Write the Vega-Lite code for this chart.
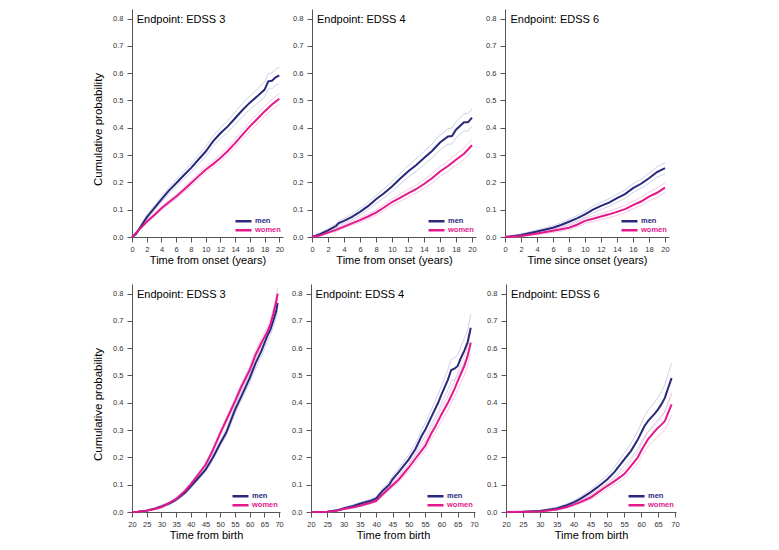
{
"$schema": "https://vega.github.io/schema/vega-lite/v6.json",
"padding": {"left": 92, "top": 9, "right": 5, "bottom": 5},
"background": "white",
"datasets": {"d": [
{"p":"A","s":"men","t":0,"y":0,"lo":0,"hi":0},
{"p":"A","s":"men","t":0.5,"y":0.01,"lo":0.004,"hi":0.016},
{"p":"A","s":"men","t":1,"y":0.03,"lo":0.024,"hi":0.036},
{"p":"A","s":"men","t":2,"y":0.072,"lo":0.064,"hi":0.08},
{"p":"A","s":"men","t":3,"y":0.105,"lo":0.096,"hi":0.114},
{"p":"A","s":"men","t":4,"y":0.138,"lo":0.128,"hi":0.148},
{"p":"A","s":"men","t":5,"y":0.17,"lo":0.159,"hi":0.181},
{"p":"A","s":"men","t":6,"y":0.197,"lo":0.184,"hi":0.21},
{"p":"A","s":"men","t":7,"y":0.225,"lo":0.211,"hi":0.239},
{"p":"A","s":"men","t":8,"y":0.252,"lo":0.237,"hi":0.267},
{"p":"A","s":"men","t":9,"y":0.283,"lo":0.267,"hi":0.299},
{"p":"A","s":"men","t":10,"y":0.313,"lo":0.295,"hi":0.331},
{"p":"A","s":"men","t":11,"y":0.35,"lo":0.331,"hi":0.369},
{"p":"A","s":"men","t":12,"y":0.38,"lo":0.36,"hi":0.4},
{"p":"A","s":"men","t":13,"y":0.405,"lo":0.384,"hi":0.426},
{"p":"A","s":"men","t":14,"y":0.435,"lo":0.412,"hi":0.458},
{"p":"A","s":"men","t":15,"y":0.465,"lo":0.441,"hi":0.489},
{"p":"A","s":"men","t":16,"y":0.492,"lo":0.467,"hi":0.517},
{"p":"A","s":"men","t":17,"y":0.515,"lo":0.489,"hi":0.541},
{"p":"A","s":"men","t":18,"y":0.54,"lo":0.512,"hi":0.568},
{"p":"A","s":"men","t":18.5,"y":0.57,"lo":0.542,"hi":0.598},
{"p":"A","s":"men","t":19,"y":0.572,"lo":0.543,"hi":0.601},
{"p":"A","s":"men","t":19.5,"y":0.585,"lo":0.556,"hi":0.614},
{"p":"A","s":"men","t":20,"y":0.592,"lo":0.562,"hi":0.622},
{"p":"A","s":"women","t":0,"y":0,"lo":0,"hi":0},
{"p":"A","s":"women","t":1,"y":0.028,"lo":0.024,"hi":0.032},
{"p":"A","s":"women","t":2,"y":0.056,"lo":0.051,"hi":0.061},
{"p":"A","s":"women","t":3,"y":0.08,"lo":0.0745,"hi":0.0855},
{"p":"A","s":"women","t":4,"y":0.105,"lo":0.099,"hi":0.111},
{"p":"A","s":"women","t":5,"y":0.127,"lo":0.12,"hi":0.134},
{"p":"A","s":"women","t":6,"y":0.148,"lo":0.14,"hi":0.156},
{"p":"A","s":"women","t":7,"y":0.172,"lo":0.163,"hi":0.181},
{"p":"A","s":"women","t":8,"y":0.197,"lo":0.187,"hi":0.207},
{"p":"A","s":"women","t":9,"y":0.222,"lo":0.211,"hi":0.233},
{"p":"A","s":"women","t":10,"y":0.246,"lo":0.2345,"hi":0.2575},
{"p":"A","s":"women","t":11,"y":0.267,"lo":0.255,"hi":0.279},
{"p":"A","s":"women","t":12,"y":0.289,"lo":0.276,"hi":0.302},
{"p":"A","s":"women","t":13,"y":0.315,"lo":0.301,"hi":0.329},
{"p":"A","s":"women","t":14,"y":0.344,"lo":0.329,"hi":0.359},
{"p":"A","s":"women","t":15,"y":0.375,"lo":0.359,"hi":0.391},
{"p":"A","s":"women","t":16,"y":0.405,"lo":0.388,"hi":0.422},
{"p":"A","s":"women","t":17,"y":0.432,"lo":0.4145,"hi":0.4495},
{"p":"A","s":"women","t":18,"y":0.46,"lo":0.442,"hi":0.478},
{"p":"A","s":"women","t":19,"y":0.485,"lo":0.466,"hi":0.504},
{"p":"A","s":"women","t":20,"y":0.506,"lo":0.486,"hi":0.526},
{"p":"B","s":"men","t":0,"y":0,"lo":0,"hi":0},
{"p":"B","s":"men","t":1,"y":0.01,"lo":0.0055,"hi":0.0145},
{"p":"B","s":"men","t":2,"y":0.024,"lo":0.018,"hi":0.03},
{"p":"B","s":"men","t":3,"y":0.04,"lo":0.0325,"hi":0.0475},
{"p":"B","s":"men","t":3.3,"y":0.05,"lo":0.042,"hi":0.058},
{"p":"B","s":"men","t":4,"y":0.059,"lo":0.05,"hi":0.068},
{"p":"B","s":"men","t":5,"y":0.074,"lo":0.0635,"hi":0.0845},
{"p":"B","s":"men","t":6,"y":0.092,"lo":0.08,"hi":0.104},
{"p":"B","s":"men","t":7,"y":0.113,"lo":0.0995,"hi":0.1265},
{"p":"B","s":"men","t":8,"y":0.138,"lo":0.123,"hi":0.153},
{"p":"B","s":"men","t":9,"y":0.16,"lo":0.1435,"hi":0.1765},
{"p":"B","s":"men","t":10,"y":0.185,"lo":0.167,"hi":0.203},
{"p":"B","s":"men","t":11,"y":0.213,"lo":0.1935,"hi":0.2325},
{"p":"B","s":"men","t":12,"y":0.24,"lo":0.219,"hi":0.261},
{"p":"B","s":"men","t":13,"y":0.263,"lo":0.2405,"hi":0.2855},
{"p":"B","s":"men","t":14,"y":0.289,"lo":0.265,"hi":0.313},
{"p":"B","s":"men","t":15,"y":0.315,"lo":0.2895,"hi":0.3405},
{"p":"B","s":"men","t":16,"y":0.346,"lo":0.319,"hi":0.373},
{"p":"B","s":"men","t":17,"y":0.368,"lo":0.3395,"hi":0.3965},
{"p":"B","s":"men","t":17.5,"y":0.37,"lo":0.341,"hi":0.399},
{"p":"B","s":"men","t":18,"y":0.393,"lo":0.363,"hi":0.423},
{"p":"B","s":"men","t":19,"y":0.42,"lo":0.3885,"hi":0.4515},
{"p":"B","s":"men","t":19.5,"y":0.42,"lo":0.388,"hi":0.452},
{"p":"B","s":"men","t":20,"y":0.437,"lo":0.404,"hi":0.47},
{"p":"B","s":"women","t":0,"y":0,"lo":0,"hi":0},
{"p":"B","s":"women","t":1,"y":0.006,"lo":0.003,"hi":0.009},
{"p":"B","s":"women","t":2,"y":0.016,"lo":0.012,"hi":0.02},
{"p":"B","s":"women","t":3,"y":0.026,"lo":0.021,"hi":0.031},
{"p":"B","s":"women","t":4,"y":0.038,"lo":0.032,"hi":0.044},
{"p":"B","s":"women","t":5,"y":0.05,"lo":0.043,"hi":0.057},
{"p":"B","s":"women","t":6,"y":0.062,"lo":0.054,"hi":0.07},
{"p":"B","s":"women","t":7,"y":0.075,"lo":0.066,"hi":0.084},
{"p":"B","s":"women","t":8,"y":0.089,"lo":0.079,"hi":0.099},
{"p":"B","s":"women","t":9,"y":0.108,"lo":0.097,"hi":0.119},
{"p":"B","s":"women","t":10,"y":0.128,"lo":0.116,"hi":0.14},
{"p":"B","s":"women","t":11,"y":0.143,"lo":0.13,"hi":0.156},
{"p":"B","s":"women","t":12,"y":0.16,"lo":0.146,"hi":0.174},
{"p":"B","s":"women","t":13,"y":0.175,"lo":0.16,"hi":0.19},
{"p":"B","s":"women","t":14,"y":0.194,"lo":0.178,"hi":0.21},
{"p":"B","s":"women","t":15,"y":0.215,"lo":0.198,"hi":0.232},
{"p":"B","s":"women","t":16,"y":0.24,"lo":0.222,"hi":0.258},
{"p":"B","s":"women","t":17,"y":0.26,"lo":0.241,"hi":0.279},
{"p":"B","s":"women","t":18,"y":0.283,"lo":0.263,"hi":0.303},
{"p":"B","s":"women","t":19,"y":0.305,"lo":0.284,"hi":0.326},
{"p":"B","s":"women","t":20,"y":0.336,"lo":0.314,"hi":0.358},
{"p":"C","s":"men","t":0,"y":0,"lo":0,"hi":0},
{"p":"C","s":"men","t":2,"y":0.007,"lo":0.003,"hi":0.011},
{"p":"C","s":"men","t":4,"y":0.02,"lo":0.0144,"hi":0.0256},
{"p":"C","s":"men","t":6,"y":0.034,"lo":0.0266,"hi":0.0414},
{"p":"C","s":"men","t":7,"y":0.044,"lo":0.0357,"hi":0.0523},
{"p":"C","s":"men","t":8,"y":0.056,"lo":0.0468,"hi":0.0652},
{"p":"C","s":"men","t":9,"y":0.068,"lo":0.058,"hi":0.078},
{"p":"C","s":"men","t":10,"y":0.083,"lo":0.072,"hi":0.094},
{"p":"C","s":"men","t":11,"y":0.1,"lo":0.088,"hi":0.112},
{"p":"C","s":"men","t":12,"y":0.114,"lo":0.101,"hi":0.127},
{"p":"C","s":"men","t":13,"y":0.126,"lo":0.112,"hi":0.14},
{"p":"C","s":"men","t":14,"y":0.142,"lo":0.127,"hi":0.157},
{"p":"C","s":"men","t":15,"y":0.157,"lo":0.1415,"hi":0.1725},
{"p":"C","s":"men","t":16,"y":0.179,"lo":0.163,"hi":0.195},
{"p":"C","s":"men","t":17,"y":0.195,"lo":0.178,"hi":0.212},
{"p":"C","s":"men","t":18,"y":0.215,"lo":0.197,"hi":0.233},
{"p":"C","s":"men","t":19,"y":0.238,"lo":0.219,"hi":0.257},
{"p":"C","s":"men","t":20,"y":0.252,"lo":0.232,"hi":0.272},
{"p":"C","s":"women","t":0,"y":0,"lo":0,"hi":0},
{"p":"C","s":"women","t":2,"y":0.004,"lo":0.001,"hi":0.007},
{"p":"C","s":"women","t":4,"y":0.013,"lo":0.0083,"hi":0.0177},
{"p":"C","s":"women","t":6,"y":0.023,"lo":0.0167,"hi":0.0293},
{"p":"C","s":"women","t":8,"y":0.034,"lo":0.026,"hi":0.042},
{"p":"C","s":"women","t":9,"y":0.045,"lo":0.036,"hi":0.054},
{"p":"C","s":"women","t":10,"y":0.059,"lo":0.0495,"hi":0.0685},
{"p":"C","s":"women","t":11,"y":0.067,"lo":0.057,"hi":0.077},
{"p":"C","s":"women","t":12,"y":0.075,"lo":0.064,"hi":0.086},
{"p":"C","s":"women","t":13,"y":0.083,"lo":0.071,"hi":0.095},
{"p":"C","s":"women","t":14,"y":0.092,"lo":0.079,"hi":0.105},
{"p":"C","s":"women","t":15,"y":0.102,"lo":0.0885,"hi":0.1155},
{"p":"C","s":"women","t":16,"y":0.117,"lo":0.103,"hi":0.131},
{"p":"C","s":"women","t":17,"y":0.13,"lo":0.115,"hi":0.145},
{"p":"C","s":"women","t":18,"y":0.148,"lo":0.132,"hi":0.164},
{"p":"C","s":"women","t":19,"y":0.162,"lo":0.145,"hi":0.179},
{"p":"C","s":"women","t":20,"y":0.181,"lo":0.1635,"hi":0.1985},
{"p":"D","s":"men","t":20,"y":0,"lo":0,"hi":0},
{"p":"D","s":"men","t":22,"y":0.001,"lo":0,"hi":0.002},
{"p":"D","s":"men","t":25,"y":0.005,"lo":0.002,"hi":0.008},
{"p":"D","s":"men","t":28,"y":0.013,"lo":0.009,"hi":0.017},
{"p":"D","s":"men","t":30,"y":0.02,"lo":0.015,"hi":0.025},
{"p":"D","s":"men","t":33,"y":0.033,"lo":0.028,"hi":0.038},
{"p":"D","s":"men","t":35,"y":0.045,"lo":0.04,"hi":0.05},
{"p":"D","s":"men","t":38,"y":0.07,"lo":0.064,"hi":0.076},
{"p":"D","s":"men","t":40,"y":0.094,"lo":0.088,"hi":0.1},
{"p":"D","s":"men","t":42,"y":0.118,"lo":0.111,"hi":0.125},
{"p":"D","s":"men","t":45,"y":0.155,"lo":0.147,"hi":0.163},
{"p":"D","s":"men","t":47,"y":0.19,"lo":0.181,"hi":0.199},
{"p":"D","s":"men","t":48,"y":0.21,"lo":0.201,"hi":0.219},
{"p":"D","s":"men","t":50,"y":0.252,"lo":0.242,"hi":0.262},
{"p":"D","s":"men","t":52,"y":0.29,"lo":0.279,"hi":0.301},
{"p":"D","s":"men","t":55,"y":0.374,"lo":0.361,"hi":0.387},
{"p":"D","s":"men","t":57,"y":0.42,"lo":0.406,"hi":0.434},
{"p":"D","s":"men","t":60,"y":0.49,"lo":0.474,"hi":0.506},
{"p":"D","s":"men","t":62,"y":0.545,"lo":0.527,"hi":0.563},
{"p":"D","s":"men","t":64,"y":0.59,"lo":0.571,"hi":0.609},
{"p":"D","s":"men","t":65,"y":0.618,"lo":0.598,"hi":0.638},
{"p":"D","s":"men","t":66,"y":0.645,"lo":0.624,"hi":0.666},
{"p":"D","s":"men","t":67,"y":0.667,"lo":0.646,"hi":0.688},
{"p":"D","s":"men","t":68,"y":0.7,"lo":0.678,"hi":0.722},
{"p":"D","s":"men","t":69,"y":0.735,"lo":0.712,"hi":0.758},
{"p":"D","s":"men","t":69.5,"y":0.765,"lo":0.741,"hi":0.789},
{"p":"D","s":"women","t":20,"y":0,"lo":0,"hi":0},
{"p":"D","s":"women","t":22,"y":0.001,"lo":0,"hi":0.002},
{"p":"D","s":"women","t":25,"y":0.005,"lo":0.002,"hi":0.008},
{"p":"D","s":"women","t":28,"y":0.012,"lo":0.009,"hi":0.015},
{"p":"D","s":"women","t":30,"y":0.018,"lo":0.014,"hi":0.022},
{"p":"D","s":"women","t":33,"y":0.035,"lo":0.031,"hi":0.039},
{"p":"D","s":"women","t":35,"y":0.048,"lo":0.043,"hi":0.053},
{"p":"D","s":"women","t":38,"y":0.077,"lo":0.072,"hi":0.082},
{"p":"D","s":"women","t":40,"y":0.102,"lo":0.096,"hi":0.108},
{"p":"D","s":"women","t":42,"y":0.13,"lo":0.124,"hi":0.136},
{"p":"D","s":"women","t":45,"y":0.173,"lo":0.166,"hi":0.18},
{"p":"D","s":"women","t":47,"y":0.215,"lo":0.207,"hi":0.223},
{"p":"D","s":"women","t":50,"y":0.289,"lo":0.28,"hi":0.298},
{"p":"D","s":"women","t":52,"y":0.335,"lo":0.325,"hi":0.345},
{"p":"D","s":"women","t":55,"y":0.405,"lo":0.394,"hi":0.416},
{"p":"D","s":"women","t":57,"y":0.455,"lo":0.443,"hi":0.467},
{"p":"D","s":"women","t":60,"y":0.52,"lo":0.506,"hi":0.534},
{"p":"D","s":"women","t":62,"y":0.576,"lo":0.561,"hi":0.591},
{"p":"D","s":"women","t":64,"y":0.62,"lo":0.604,"hi":0.636},
{"p":"D","s":"women","t":65,"y":0.64,"lo":0.623,"hi":0.657},
{"p":"D","s":"women","t":66,"y":0.66,"lo":0.642,"hi":0.678},
{"p":"D","s":"women","t":67,"y":0.685,"lo":0.667,"hi":0.703},
{"p":"D","s":"women","t":68,"y":0.725,"lo":0.706,"hi":0.744},
{"p":"D","s":"women","t":69,"y":0.77,"lo":0.75,"hi":0.79},
{"p":"D","s":"women","t":69.5,"y":0.8,"lo":0.779,"hi":0.821},
{"p":"E","s":"men","t":20,"y":0,"lo":0,"hi":0},
{"p":"E","s":"men","t":25,"y":0.001,"lo":0,"hi":0.002},
{"p":"E","s":"men","t":28,"y":0.006,"lo":0.003,"hi":0.009},
{"p":"E","s":"men","t":30,"y":0.013,"lo":0.009,"hi":0.017},
{"p":"E","s":"men","t":33,"y":0.022,"lo":0.017,"hi":0.027},
{"p":"E","s":"men","t":35,"y":0.03,"lo":0.025,"hi":0.035},
{"p":"E","s":"men","t":38,"y":0.04,"lo":0.034,"hi":0.046},
{"p":"E","s":"men","t":40,"y":0.05,"lo":0.044,"hi":0.056},
{"p":"E","s":"men","t":42,"y":0.078,"lo":0.07,"hi":0.086},
{"p":"E","s":"men","t":44,"y":0.1,"lo":0.09,"hi":0.11},
{"p":"E","s":"men","t":45,"y":0.12,"lo":0.109,"hi":0.131},
{"p":"E","s":"men","t":47,"y":0.148,"lo":0.135,"hi":0.161},
{"p":"E","s":"men","t":50,"y":0.193,"lo":0.177,"hi":0.209},
{"p":"E","s":"men","t":52,"y":0.23,"lo":0.211,"hi":0.249},
{"p":"E","s":"men","t":54,"y":0.28,"lo":0.258,"hi":0.302},
{"p":"E","s":"men","t":55,"y":0.3,"lo":0.276,"hi":0.324},
{"p":"E","s":"men","t":57,"y":0.35,"lo":0.323,"hi":0.377},
{"p":"E","s":"men","t":59,"y":0.4,"lo":0.369,"hi":0.431},
{"p":"E","s":"men","t":60,"y":0.43,"lo":0.397,"hi":0.463},
{"p":"E","s":"men","t":62,"y":0.485,"lo":0.448,"hi":0.522},
{"p":"E","s":"men","t":63,"y":0.52,"lo":0.481,"hi":0.559},
{"p":"E","s":"men","t":64,"y":0.525,"lo":0.485,"hi":0.565},
{"p":"E","s":"men","t":65,"y":0.535,"lo":0.495,"hi":0.575},
{"p":"E","s":"men","t":66,"y":0.565,"lo":0.522,"hi":0.608},
{"p":"E","s":"men","t":67,"y":0.59,"lo":0.546,"hi":0.634},
{"p":"E","s":"men","t":68,"y":0.62,"lo":0.574,"hi":0.666},
{"p":"E","s":"men","t":69,"y":0.675,"lo":0.625,"hi":0.725},
{"p":"E","s":"women","t":20,"y":0,"lo":0,"hi":0},
{"p":"E","s":"women","t":25,"y":0.001,"lo":0,"hi":0.002},
{"p":"E","s":"women","t":28,"y":0.005,"lo":0.003,"hi":0.007},
{"p":"E","s":"women","t":30,"y":0.011,"lo":0.008,"hi":0.014},
{"p":"E","s":"women","t":33,"y":0.017,"lo":0.014,"hi":0.02},
{"p":"E","s":"women","t":35,"y":0.023,"lo":0.019,"hi":0.027},
{"p":"E","s":"women","t":38,"y":0.033,"lo":0.029,"hi":0.037},
{"p":"E","s":"women","t":40,"y":0.041,"lo":0.036,"hi":0.046},
{"p":"E","s":"women","t":42,"y":0.065,"lo":0.059,"hi":0.071},
{"p":"E","s":"women","t":45,"y":0.098,"lo":0.09,"hi":0.106},
{"p":"E","s":"women","t":47,"y":0.12,"lo":0.111,"hi":0.129},
{"p":"E","s":"women","t":50,"y":0.163,"lo":0.151,"hi":0.175},
{"p":"E","s":"women","t":52,"y":0.195,"lo":0.181,"hi":0.209},
{"p":"E","s":"women","t":55,"y":0.242,"lo":0.225,"hi":0.259},
{"p":"E","s":"women","t":57,"y":0.29,"lo":0.271,"hi":0.309},
{"p":"E","s":"women","t":58,"y":0.31,"lo":0.289,"hi":0.331},
{"p":"E","s":"women","t":60,"y":0.357,"lo":0.334,"hi":0.38},
{"p":"E","s":"women","t":62,"y":0.4,"lo":0.374,"hi":0.426},
{"p":"E","s":"women","t":64,"y":0.45,"lo":0.421,"hi":0.479},
{"p":"E","s":"women","t":65,"y":0.479,"lo":0.448,"hi":0.51},
{"p":"E","s":"women","t":67,"y":0.534,"lo":0.5,"hi":0.568},
{"p":"E","s":"women","t":68,"y":0.57,"lo":0.534,"hi":0.606},
{"p":"E","s":"women","t":69,"y":0.62,"lo":0.581,"hi":0.659},
{"p":"F","s":"men","t":20,"y":0,"lo":0,"hi":0},
{"p":"F","s":"men","t":25,"y":0.001,"lo":0,"hi":0.002},
{"p":"F","s":"men","t":30,"y":0.004,"lo":0.002,"hi":0.006},
{"p":"F","s":"men","t":35,"y":0.013,"lo":0.009,"hi":0.017},
{"p":"F","s":"men","t":38,"y":0.025,"lo":0.02,"hi":0.03},
{"p":"F","s":"men","t":40,"y":0.035,"lo":0.029,"hi":0.041},
{"p":"F","s":"men","t":42,"y":0.048,"lo":0.041,"hi":0.055},
{"p":"F","s":"men","t":45,"y":0.072,"lo":0.062,"hi":0.082},
{"p":"F","s":"men","t":47,"y":0.09,"lo":0.078,"hi":0.102},
{"p":"F","s":"men","t":50,"y":0.12,"lo":0.105,"hi":0.135},
{"p":"F","s":"men","t":52,"y":0.145,"lo":0.127,"hi":0.163},
{"p":"F","s":"men","t":55,"y":0.193,"lo":0.17,"hi":0.216},
{"p":"F","s":"men","t":57,"y":0.224,"lo":0.197,"hi":0.251},
{"p":"F","s":"men","t":59,"y":0.265,"lo":0.234,"hi":0.296},
{"p":"F","s":"men","t":60,"y":0.29,"lo":0.256,"hi":0.324},
{"p":"F","s":"men","t":61,"y":0.315,"lo":0.278,"hi":0.352},
{"p":"F","s":"men","t":62,"y":0.333,"lo":0.294,"hi":0.372},
{"p":"F","s":"men","t":64,"y":0.36,"lo":0.318,"hi":0.402},
{"p":"F","s":"men","t":65,"y":0.376,"lo":0.332,"hi":0.42},
{"p":"F","s":"men","t":66,"y":0.395,"lo":0.349,"hi":0.441},
{"p":"F","s":"men","t":67,"y":0.418,"lo":0.37,"hi":0.466},
{"p":"F","s":"men","t":68,"y":0.455,"lo":0.403,"hi":0.507},
{"p":"F","s":"men","t":69,"y":0.49,"lo":0.434,"hi":0.546},
{"p":"F","s":"women","t":20,"y":0,"lo":0,"hi":0},
{"p":"F","s":"women","t":25,"y":0.001,"lo":0,"hi":0.002},
{"p":"F","s":"women","t":30,"y":0.002,"lo":0.001,"hi":0.003},
{"p":"F","s":"women","t":35,"y":0.009,"lo":0.006,"hi":0.012},
{"p":"F","s":"women","t":38,"y":0.018,"lo":0.014,"hi":0.022},
{"p":"F","s":"women","t":40,"y":0.027,"lo":0.022,"hi":0.032},
{"p":"F","s":"women","t":42,"y":0.036,"lo":0.031,"hi":0.041},
{"p":"F","s":"women","t":45,"y":0.053,"lo":0.046,"hi":0.06},
{"p":"F","s":"women","t":47,"y":0.07,"lo":0.061,"hi":0.079},
{"p":"F","s":"women","t":50,"y":0.096,"lo":0.085,"hi":0.107},
{"p":"F","s":"women","t":52,"y":0.112,"lo":0.1,"hi":0.124},
{"p":"F","s":"women","t":55,"y":0.139,"lo":0.124,"hi":0.154},
{"p":"F","s":"women","t":57,"y":0.169,"lo":0.151,"hi":0.187},
{"p":"F","s":"women","t":59,"y":0.2,"lo":0.179,"hi":0.221},
{"p":"F","s":"women","t":60,"y":0.224,"lo":0.201,"hi":0.247},
{"p":"F","s":"women","t":61,"y":0.245,"lo":0.22,"hi":0.27},
{"p":"F","s":"women","t":62,"y":0.266,"lo":0.239,"hi":0.293},
{"p":"F","s":"women","t":64,"y":0.295,"lo":0.265,"hi":0.325},
{"p":"F","s":"women","t":65,"y":0.309,"lo":0.278,"hi":0.34},
{"p":"F","s":"women","t":66,"y":0.32,"lo":0.288,"hi":0.352},
{"p":"F","s":"women","t":67,"y":0.333,"lo":0.3,"hi":0.366},
{"p":"F","s":"women","t":68,"y":0.364,"lo":0.327,"hi":0.401},
{"p":"F","s":"women","t":69,"y":0.394,"lo":0.355,"hi":0.433}
]},
"vconcat": [
{"hconcat": [
{"width": 151, "height": 228, "data": {"name": "d"}, "transform": [{"filter": "datum.p == 'A'"}],
 "encoding": {
  "x": {"field": "t", "type": "quantitative", "scale": {"domain": [0, 20.5], "nice": false, "zero": false}, "axis": {"values": [0,2,4,6,8,10,12,14,16,18,20], "format": "d", "title": "Time from onset (years)"}},
  "y": {"field": "y", "type": "quantitative", "scale": {"domain": [0, 0.835], "nice": false}, "axis": {"values": [0,0.1,0.2,0.3,0.4,0.5,0.6,0.7,0.8], "format": ".1f", "labelOverlap": false, "titleY": 120}, "title": "Cumulative probability"}},
 "layer": [
  {"mark": {"type": "line", "strokeWidth": 0.8}, "encoding": {"y": {"field": "lo", "type": "quantitative"}, "detail": {"field": "s"}, "stroke": {"condition": {"test": "datum.s == 'men'", "value": "#c4c4e4"}, "value": "#f3bcdc"}}},
  {"mark": {"type": "line", "strokeWidth": 0.8}, "encoding": {"y": {"field": "hi", "type": "quantitative"}, "detail": {"field": "s"}, "stroke": {"condition": {"test": "datum.s == 'men'", "value": "#c4c4e4"}, "value": "#f3bcdc"}}},
  {"mark": {"type": "line", "strokeWidth": 2}, "encoding": {"color": {"field": "s", "type": "nominal", "scale": {"domain": ["men","women"], "range": ["#28287c","#e2188c"]}, "legend": {"title": null, "labelColor": {"expr": "datum.label == 'men' ? '#28287c' : '#e2188c'"}}}}},
  {"transform": [{"filter": "datum.t == 0 && datum.s == 'men'"}], "mark": {"type": "text", "align": "left", "baseline": "alphabetic", "fontSize": 11, "fill": "#000000"}, "encoding": {"x": {"datum": 0.64}, "y": {"datum": 0.785}, "text": {"value": "Endpoint: EDSS 3"}}}
 ]},
{"width": 164, "height": 228, "data": {"name": "d"}, "transform": [{"filter": "datum.p == 'B'"}],
 "encoding": {
  "x": {"field": "t", "type": "quantitative", "scale": {"domain": [0, 20.5], "nice": false, "zero": false}, "axis": {"values": [0,2,4,6,8,10,12,14,16,18,20], "format": "d", "title": "Time from onset (years)"}},
  "y": {"field": "y", "type": "quantitative", "scale": {"domain": [0, 0.835], "nice": false}, "axis": {"values": [0,0.1,0.2,0.3,0.4,0.5,0.6,0.7,0.8], "format": ".1f", "labelOverlap": false}, "title": null}},
 "layer": [
  {"mark": {"type": "line", "strokeWidth": 0.8}, "encoding": {"y": {"field": "lo", "type": "quantitative"}, "detail": {"field": "s"}, "stroke": {"condition": {"test": "datum.s == 'men'", "value": "#c4c4e4"}, "value": "#f3bcdc"}}},
  {"mark": {"type": "line", "strokeWidth": 0.8}, "encoding": {"y": {"field": "hi", "type": "quantitative"}, "detail": {"field": "s"}, "stroke": {"condition": {"test": "datum.s == 'men'", "value": "#c4c4e4"}, "value": "#f3bcdc"}}},
  {"mark": {"type": "line", "strokeWidth": 2}, "encoding": {"color": {"field": "s", "type": "nominal", "scale": {"domain": ["men","women"], "range": ["#28287c","#e2188c"]}, "legend": {"title": null, "labelColor": {"expr": "datum.label == 'men' ? '#28287c' : '#e2188c'"}}}}},
  {"transform": [{"filter": "datum.t == 0 && datum.s == 'men'"}], "mark": {"type": "text", "align": "left", "baseline": "alphabetic", "fontSize": 11, "fill": "#000000"}, "encoding": {"x": {"datum": 0.62}, "y": {"datum": 0.785}, "text": {"value": "Endpoint: EDSS 4"}}}
 ]},
{"width": 164, "height": 228, "data": {"name": "d"}, "transform": [{"filter": "datum.p == 'C'"}],
 "encoding": {
  "x": {"field": "t", "type": "quantitative", "scale": {"domain": [0, 20.5], "nice": false, "zero": false}, "axis": {"values": [0,2,4,6,8,10,12,14,16,18,20], "format": "d", "title": "Time since onset (years)"}},
  "y": {"field": "y", "type": "quantitative", "scale": {"domain": [0, 0.835], "nice": false}, "axis": {"values": [0,0.1,0.2,0.3,0.4,0.5,0.6,0.7,0.8], "format": ".1f", "labelOverlap": false}, "title": null}},
 "layer": [
  {"mark": {"type": "line", "strokeWidth": 0.8}, "encoding": {"y": {"field": "lo", "type": "quantitative"}, "detail": {"field": "s"}, "stroke": {"condition": {"test": "datum.s == 'men'", "value": "#c4c4e4"}, "value": "#f3bcdc"}}},
  {"mark": {"type": "line", "strokeWidth": 0.8}, "encoding": {"y": {"field": "hi", "type": "quantitative"}, "detail": {"field": "s"}, "stroke": {"condition": {"test": "datum.s == 'men'", "value": "#c4c4e4"}, "value": "#f3bcdc"}}},
  {"mark": {"type": "line", "strokeWidth": 2}, "encoding": {"color": {"field": "s", "type": "nominal", "scale": {"domain": ["men","women"], "range": ["#28287c","#e2188c"]}, "legend": {"title": null, "labelColor": {"expr": "datum.label == 'men' ? '#28287c' : '#e2188c'"}}}}},
  {"transform": [{"filter": "datum.t == 0 && datum.s == 'men'"}], "mark": {"type": "text", "align": "left", "baseline": "alphabetic", "fontSize": 11, "fill": "#000000"}, "encoding": {"x": {"datum": 0.68}, "y": {"datum": 0.785}, "text": {"value": "Endpoint: EDSS 6"}}}
 ]}
], "spacing": 29, "bounds": "flush", "resolve": {"scale": {"color": "independent"}}},
{"hconcat": [
{"width": 148, "height": 228, "data": {"name": "d"}, "transform": [{"filter": "datum.p == 'D'"}],
 "encoding": {
  "x": {"field": "t", "type": "quantitative", "scale": {"domain": [20, 70.3], "nice": false, "zero": false}, "axis": {"values": [20,25,30,35,40,45,50,55,60,65,70], "format": "d", "title": "Time from birth"}},
  "y": {"field": "y", "type": "quantitative", "scale": {"domain": [0, 0.835], "nice": false}, "axis": {"values": [0,0.1,0.2,0.3,0.4,0.5,0.6,0.7,0.8], "format": ".1f", "labelOverlap": false, "titleY": 120}, "title": "Cumulative probability"}},
 "layer": [
  {"mark": {"type": "line", "strokeWidth": 0.8}, "encoding": {"y": {"field": "lo", "type": "quantitative"}, "detail": {"field": "s"}, "stroke": {"condition": {"test": "datum.s == 'men'", "value": "#c4c4e4"}, "value": "#f3bcdc"}}},
  {"mark": {"type": "line", "strokeWidth": 0.8}, "encoding": {"y": {"field": "hi", "type": "quantitative"}, "detail": {"field": "s"}, "stroke": {"condition": {"test": "datum.s == 'men'", "value": "#c4c4e4"}, "value": "#f3bcdc"}}},
  {"mark": {"type": "line", "strokeWidth": 2}, "encoding": {"color": {"field": "s", "type": "nominal", "scale": {"domain": ["men","women"], "range": ["#28287c","#e2188c"]}, "legend": {"title": null, "labelColor": {"expr": "datum.label == 'men' ? '#28287c' : '#e2188c'"}}}}},
  {"transform": [{"filter": "datum.t == 20 && datum.s == 'men'"}], "mark": {"type": "text", "align": "left", "baseline": "alphabetic", "fontSize": 11, "fill": "#000000"}, "encoding": {"x": {"datum": 21.7}, "y": {"datum": 0.785}, "text": {"value": "Endpoint: EDSS 3"}}}
 ]},
{"width": 164, "height": 228, "data": {"name": "d"}, "transform": [{"filter": "datum.p == 'E'"}],
 "encoding": {
  "x": {"field": "t", "type": "quantitative", "scale": {"domain": [20, 70.3], "nice": false, "zero": false}, "axis": {"values": [20,25,30,35,40,45,50,55,60,65,70], "format": "d", "title": "Time from birth"}},
  "y": {"field": "y", "type": "quantitative", "scale": {"domain": [0, 0.835], "nice": false}, "axis": {"values": [0,0.1,0.2,0.3,0.4,0.5,0.6,0.7,0.8], "format": ".1f", "labelOverlap": false}, "title": null}},
 "layer": [
  {"mark": {"type": "line", "strokeWidth": 0.8}, "encoding": {"y": {"field": "lo", "type": "quantitative"}, "detail": {"field": "s"}, "stroke": {"condition": {"test": "datum.s == 'men'", "value": "#c4c4e4"}, "value": "#f3bcdc"}}},
  {"mark": {"type": "line", "strokeWidth": 0.8}, "encoding": {"y": {"field": "hi", "type": "quantitative"}, "detail": {"field": "s"}, "stroke": {"condition": {"test": "datum.s == 'men'", "value": "#c4c4e4"}, "value": "#f3bcdc"}}},
  {"mark": {"type": "line", "strokeWidth": 2}, "encoding": {"color": {"field": "s", "type": "nominal", "scale": {"domain": ["men","women"], "range": ["#28287c","#e2188c"]}, "legend": {"title": null, "labelColor": {"expr": "datum.label == 'men' ? '#28287c' : '#e2188c'"}}}}},
  {"transform": [{"filter": "datum.t == 20 && datum.s == 'men'"}], "mark": {"type": "text", "align": "left", "baseline": "alphabetic", "fontSize": 11, "fill": "#000000"}, "encoding": {"x": {"datum": 21.4}, "y": {"datum": 0.785}, "text": {"value": "Endpoint: EDSS 4"}}}
 ]},
{"width": 170, "height": 228, "data": {"name": "d"}, "transform": [{"filter": "datum.p == 'F'"}],
 "encoding": {
  "x": {"field": "t", "type": "quantitative", "scale": {"domain": [20, 70.3], "nice": false, "zero": false}, "axis": {"values": [20,25,30,35,40,45,50,55,60,65,70], "format": "d", "title": "Time from birth"}},
  "y": {"field": "y", "type": "quantitative", "scale": {"domain": [0, 0.835], "nice": false}, "axis": {"values": [0,0.1,0.2,0.3,0.4,0.5,0.6,0.7,0.8], "format": ".1f", "labelOverlap": false}, "title": null}},
 "layer": [
  {"mark": {"type": "line", "strokeWidth": 0.8}, "encoding": {"y": {"field": "lo", "type": "quantitative"}, "detail": {"field": "s"}, "stroke": {"condition": {"test": "datum.s == 'men'", "value": "#c4c4e4"}, "value": "#f3bcdc"}}},
  {"mark": {"type": "line", "strokeWidth": 0.8}, "encoding": {"y": {"field": "hi", "type": "quantitative"}, "detail": {"field": "s"}, "stroke": {"condition": {"test": "datum.s == 'men'", "value": "#c4c4e4"}, "value": "#f3bcdc"}}},
  {"mark": {"type": "line", "strokeWidth": 2}, "encoding": {"color": {"field": "s", "type": "nominal", "scale": {"domain": ["men","women"], "range": ["#28287c","#e2188c"]}, "legend": {"title": null, "labelColor": {"expr": "datum.label == 'men' ? '#28287c' : '#e2188c'"}}}}},
  {"transform": [{"filter": "datum.t == 20 && datum.s == 'men'"}], "mark": {"type": "text", "align": "left", "baseline": "alphabetic", "fontSize": 11, "fill": "#000000"}, "encoding": {"x": {"datum": 21.5}, "y": {"datum": 0.785}, "text": {"value": "Endpoint: EDSS 6"}}}
 ]}
], "spacing": 31, "bounds": "flush", "resolve": {"scale": {"color": "independent"}}}
],
"spacing": 18,
"resolve": {"scale": {"color": "independent"}},
"config": {
 "view": {"stroke": null},
 "axis": {"grid": false, "domainColor": "#555555", "tickColor": "#555555", "tickSize": 5, "labelColor": "#333333", "labelFontSize": 7.5, "labelFont": "Liberation Sans", "labelPadding": 3, "titleFont": "Liberation Sans", "titleFontSize": 11, "titleFontWeight": "normal", "titleColor": "#000000", "labelFlush": false},
 "axisY": {"titleFontSize": 11.5, "titlePadding": 9, "labelPadding": 4},
 "axisX": {"titlePadding": 2},
 "text": {"font": "Liberation Sans"},
 "legend": {"orient": "bottom-right", "offset": 2, "padding": 0, "symbolType": "stroke", "symbolStrokeWidth": 2.5, "symbolSize": 256, "clipHeight": 8.5, "rowPadding": 0, "labelOffset": 2, "labelFontSize": 7.5, "labelFontWeight": "bold", "labelFont": "Liberation Sans"}
}
}
